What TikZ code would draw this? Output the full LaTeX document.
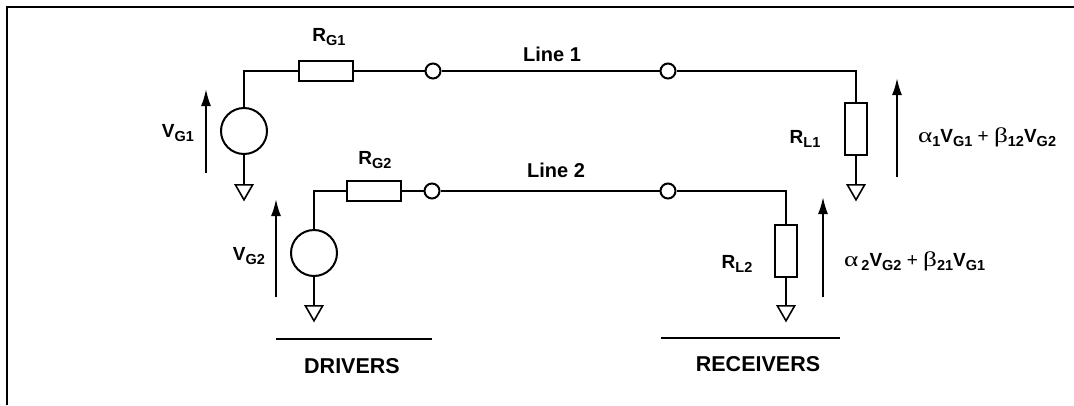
\documentclass[tikz,border=0pt]{standalone}
\usepackage{graphicx}
\usepackage{fontspec}
\setmainfont{Liberation Sans}
\newfontfamily\greekfont{Liberation Serif}
\usetikzlibrary{positioning}
\usetikzlibrary{shapes.geometric}
\usetikzlibrary{arrows.meta}
\newcommand{\ssub}[1]{\raisebox{-4pt}{\fontsize{14.5}{15}\selectfont #1}}
\newcommand{\gk}[1]{{\greekfont\mdseries\fontsize{21}{22}\selectfont\scalebox{1.3}[1]{#1}}}

\begin{document}
\begin{tikzpicture}[
    x=1pt, y=-1pt,
    line width=2pt,
    resbox/.style={draw,rectangle,inner sep=0pt},
    source/.style={draw,circle,minimum size=46pt,inner sep=0pt},
    term/.style={draw,circle,fill=white,minimum size=15pt,inner sep=0pt},
    gnd/.style={draw,regular polygon,regular polygon sides=3,shape border rotate=180,
      minimum size=20pt,inner sep=0pt,line width=1.6pt},
    volt/.style={-{Latex[length=17pt,width=10pt]}},
    lbl/.style={anchor=base,inner sep=0pt,font=\bfseries\fontsize{19}{20}\selectfont},
    linelbl/.style={anchor=base,inner sep=0pt,font=\bfseries\fontsize{20}{22}\selectfont},
    grouplbl/.style={anchor=base,inner sep=0pt,font=\bfseries\fontsize{21.5}{24}\selectfont}
    ]
    \useasboundingbox (0,0) rectangle (1074,405);

    % frame
    \draw[line width=2.6pt] (7,405) -- (7,7) -- (1074,7);

    % line 1
    \node[source] (s1) at (244,131) {};
    \node[resbox,minimum width=54pt,minimum height=20pt] (rg1) at (326,71) {};
    \node[term] (t1a) at (433,71) {};
    \node[term] (t1b) at (668,71) {};
    \node[resbox,minimum width=22pt,minimum height=52pt] (rl1) at (856,129) {};
    \node[gnd, below=29pt of s1] (g1) {};
    \node[gnd, below=28pt of rl1] (gl1) {};

    % line 2
    \node[source] (s2) at (314,253) {};
    \node[resbox,minimum width=54pt,minimum height=20pt] (rg2) at (374,191) {};
    \node[term] (t2a) at (432,191) {};
    \node[term] (t2b) at (668,191) {};
    \node[resbox,minimum width=22pt,minimum height=52pt] (rl2) at (786,251) {};
    \node[gnd, below=28pt of s2] (g2) {};
    \node[gnd, below=27pt of rl2] (gl2) {};

    \draw (s1) |- (rg1) -- (t1a) -- (t1b) -| (rl1);
    \draw (s1) -- (g1);
    \draw (rl1) -- (gl1);
    \draw (s2) |- (rg2) -- (t2a) -- (t2b) -| (rl2);
    \draw (s2) -- (g2);
    \draw (rl2) -- (gl2);

    % voltage arrows
    \coordinate (vg1a) at (206,173);
    \coordinate (vg1b) at (206,89);
    \coordinate (vg2a) at (276,297);
    \coordinate (vg2b) at (276,199);
    \coordinate (vl1a) at (897,177);
    \coordinate (vl1b) at (897,78);
    \coordinate (vl2a) at (823,297);
    \coordinate (vl2b) at (823,197);
    \path (vg1a) edge[volt] (vg1b)
    (vg2a) edge[volt] (vg2b)
    (vl1a) edge[volt] (vl1b)
    (vl2a) edge[volt] (vl2b)
    ;

    % labels
    \node[lbl] (lrg1) at (329,41) {R\ssub{G1}};
    \node[lbl] (lrg2) at (375,164) {R\ssub{G2}};
    \node[lbl] (lvg1) at (178,137) {V\ssub{G1}};
    \node[lbl] (lvg2) at (249,260) {V\ssub{G2}};
    \node[lbl] (lrl1) at (805,143) {R\ssub{L1}};
    \node[lbl] (lrl2) at (737,268) {R\ssub{L2}};
    \node[linelbl] (ln1) at (552,61) {Line 1};
    \node[linelbl] (ln2) at (556,177) {Line 2};
    \node[lbl,anchor=base west] (out1) at (917,142)
      {\gk{α}\ssub{1}V\ssub{G1} {\mdseries+} \gk{β}\ssub{12}V\ssub{G2}};
    \node[lbl,anchor=base west] (out2) at (843,266)
      {\gk{α}\,\ssub{2}V\ssub{G2} {\mdseries+} \gk{β}\ssub{21}V\ssub{G1}};

    % groups
    \coordinate (drva) at (276,339);
    \coordinate (drvb) at (432,339);
    \coordinate (rcva) at (661,338);
    \coordinate (rcvb) at (840,338);
    \draw (drva) -- (drvb);
    \draw (rcva) -- (rcvb);
    \node[grouplbl] (ldrv) at (352,373) {DRIVERS};
    \node[grouplbl] (lrcv) at (758,371) {RECEIVERS};

  \end{tikzpicture}
\end{document}
